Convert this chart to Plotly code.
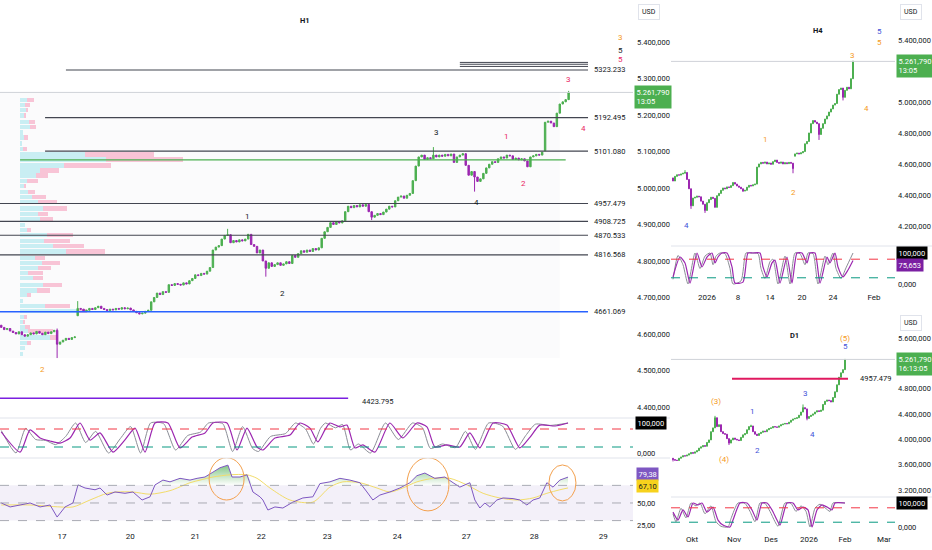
import plotly.graph_objects as go

W, H = 932, 550

# ---------------- H1 (hourly) data ----------------
h1_close = [4618, 4612, 4615, 4608, 4604, 4600, 4606, 4598, 4594,
            4598, 4603, 4600, 4607, 4602, 4598, 4605, 4601, 4606, 4610,
            4572, 4578, 4583, 4588, 4585, 4590, 4592, 4670,
            4668, 4662, 4665, 4670, 4667, 4672, 4676, 4670, 4667, 4664, 4668, 4666,
            4670, 4668, 4672, 4669, 4671, 4666, 4662, 4658, 4655, 4657, 4662, 4665,
            4688, 4700, 4712, 4708, 4716, 4714, 4735, 4733, 4738, 4736, 4734, 4740, 4737,
            4746, 4752, 4762, 4760, 4766, 4764, 4772, 4782, 4830, 4838, 4842, 4860, 4870,
            4872, 4850, 4856, 4852, 4858, 4855, 4860, 4873, 4845, 4840, 4822, 4830, 4800,
            4780, 4795, 4785, 4790, 4795, 4788, 4792, 4798, 4793, 4815, 4810,
            4820, 4828, 4824, 4830, 4826, 4834, 4830, 4836, 4862, 4880, 4892,
            4905, 4900, 4908, 4904, 4910, 4935, 4950, 4946, 4952, 4948, 4954, 4950, 4955,
            4935, 4920, 4925, 4930, 4927, 4934, 4942, 4950, 4948, 4965, 4975,
            4978, 4972, 4980, 4985, 5020, 5060, 5085, 5090, 5078, 5083, 5080, 5090,
            5085, 5090, 5087, 5092, 5088, 5093, 5070, 5085, 5090, 5094, 5062, 5035, 5045,
            5030, 5018, 5025, 5040, 5055, 5065, 5072, 5070, 5080, 5085, 5082, 5090, 5088,
            5078, 5082, 5077, 5080, 5074, 5058, 5085, 5088, 5092, 5090, 5098, 5180,
            5183, 5178, 5168, 5205, 5230, 5236, 5242, 5261.79]
h1_first_open = 4624
h1_open_over = {26: 4650, 185: 5102}
h1_high_over = {19: 4615, 26: 4690, 77: 4888, 147: 5112, 193: 5266}
h1_low_over = {19: 4534, 90: 4757, 126: 4912, 161: 4990}

# volume profile rows (price, up volume, down volume)
vp_price = [5241, 5227, 5214, 5199, 5181, 5167, 5152, 5138, 5122, 5107,
            5092, 5078, 5062, 5048, 5034, 5019, 5006, 4989, 4975, 4962,
            4944, 4929, 4914, 4899, 4885, 4871, 4855, 4841, 4826, 4808,
            4795, 4781, 4767, 4753, 4734, 4719, 4706, 4690, 4677, 4663,
            4647, 4633, 4619, 4608, 4590, 4575, 4562, 4545]
vp_up = [7, 5, 6, 4, 9, 10, 3, 4, 2, 3, 65, 86, 44, 20, 16, 7, 4, 8, 12, 18,
         23, 18, 20, 5, 7, 27, 24, 33, 46, 15, 22, 18, 8, 13, 23, 17, 7, 3, 25, 57,
         4, 3, 5, 8, 30, 7, 5, 3]
vp_down = [7, 5, 2, 2, 6, 6, 0, 4, 0, 4, 69, 77, 47, 19, 12, 11, 2, 7, 14, 19,
           24, 10, 13, 0, 4, 26, 26, 31, 39, 10, 18, 13, 15, 10, 19, 13, 4, 0, 25, 10,
           3, 2, 5, 25, 8, 4, 0, 0]

# horizontal levels (price, start bar, end bar)
h1_black_levels = [(5323.233, 22, 199.6), (5192.495, 14.9, 199.6), (5101.080, 14.9, 199.6),
                   (4957.479, -1, 199.6), (4908.725, -1, 199.6), (4870.533, -1, 199.6),
                   (4816.568, -1, 199.6)]
h1_short_levels = [5344, 5339, 5333]
h1_poc_level = 5077
h1_blue_level = 4661.069
h1_purple_level = 4423.795

# stochastic H1
st1_x = [0, 6.4, 9.8, 13.2, 16.6, 20, 23.4, 26.8, 30.2, 33.6, 38, 42, 45.5, 48.9, 52.3,
         56.7, 60.8, 64.9, 69.3, 72, 76.8, 80.2, 83.6, 87, 89, 93.1, 98.2, 101.6, 105,
         107.7, 110.1, 111.8, 115.2, 117.6, 120.3, 123, 127.1, 132.2, 136.6, 141.4, 144.8,
         147.5, 151.6, 156, 159.4, 162.8, 167.3, 172, 176.4, 179.9, 183.2, 188.4, 192.8]
st1_d = [70, 3, 77, 50, 40, 33, 50, 100, 43, 67, 3, 43, 83, 3, 100, 100, 17, 53, 67, 100,
         100, 10, 83, 20, 10, 50, 60, 100, 83, 37, 77, 100, 87, 93, 17, 27, 3, 100, 50, 100,
         87, 20, 27, 20, 67, 17, 100, 93, 17, 53, 93, 90, 100]
st1_kx = [0, 5, 8.3, 11.7, 15.1, 18.5, 21.9, 25.3, 28.7, 32.1, 36.5, 40.5, 44, 47.4, 50.8,
          55.2, 59.3, 63.4, 67.8, 70.5, 75.3, 78.7, 82.1, 85.5, 87.5, 91.6, 96.7, 100.1,
          103.5, 106.2, 108.6, 110.3, 113.7, 116.1, 118.8, 121.5, 125.6, 130.7, 135.1,
          139.9, 143.3, 146, 150.1, 154.5, 157.9, 161.3, 165.8, 170.5, 174.9, 178.4, 181.7,
          186.9, 192.8]
st1_k = [75, 0, 82, 45, 42, 28, 55, 100, 35, 72, 0, 48, 88, 0, 100, 98, 10, 58, 70, 100,
         98, 5, 88, 15, 5, 55, 65, 100, 80, 30, 82, 100, 84, 95, 10, 30, 0, 100, 45, 100,
         84, 15, 30, 18, 72, 12, 100, 90, 12, 58, 96, 92, 100]

# RSI H1
rsi_x = [0, 3, 6.4, 9.8, 13.2, 16.6, 19, 21.7, 24.4, 26.1, 28.5, 31.9, 33.6, 36, 38.7, 42.1,
         44.8, 47.9, 50.6, 52.3, 55, 57.4, 60.8, 64.2, 66.6, 69.3, 72, 74.4, 77.1, 78.5,
         81.2, 83.6, 85.6, 88, 89, 90.7, 93.1, 95.8, 99.2, 102.6, 106, 108.4, 111.8, 115.2,
         118.6, 122, 124.4, 126.4, 128.8, 132.2, 135.6, 139, 141.4, 144.1, 147.5, 150.9,
         153.7, 156, 159.4, 161.1, 162.8, 164.5, 166.2, 168.6, 170.7, 174.1, 176.4, 178.8,
         180.9, 183.2, 185.6, 187.7, 190, 192.8]
rsi_v = [50, 45.5, 47.7, 50, 45.5, 47.7, 34, 45.5, 50, 70.5, 67, 65, 67, 59, 62.5, 61,
         62.5, 53.4, 57, 70.5, 76, 74, 78, 76, 78, 79.5, 85, 90, 93, 79.5,
         79.5, 82, 62.5, 57, 53.4, 42, 45.5, 44.3, 51, 55.7, 57, 72, 74, 78,
         76, 73, 62.5, 53.4, 59, 62.5, 67, 73, 81, 84, 78, 79.5,
         73, 68, 73, 53.4, 44.3, 50, 45.5, 53.4, 55.7, 55, 53.4, 47.7,
         53.4, 55.7, 73, 68, 76, 79.38]
rsi_ma_x = [0, 9.8, 20, 24.4, 30.2, 36, 39.4, 44.8, 50.6, 57.4, 64.2, 67.6, 72, 77.8, 83.6,
            87, 91.4, 98.2, 106, 111.8, 116.2, 122, 127.8, 132.2, 136.6, 141.4, 146.9,
            152.6, 158.4, 163.9, 169.6, 175.4, 180.9, 185.6, 190, 192.8]
rsi_ma_v = [47.7, 47.7, 45.5, 45.5, 53.4, 61, 62.5, 62.5, 60, 64, 73, 76, 79.5, 82, 82,
            78, 67, 53.4, 51, 68, 74, 73, 67, 62.5, 67, 74, 78,
            78, 70.5, 61, 55.7, 53.4, 55.7, 61, 65, 67.1]

h1_day_ticks = [20.7, 43.9, 66, 88.4, 110.9, 134.7, 158.2, 181.3, 204.8]
h1_day_text = ["17", "20", "21", "22", "23", "24", "27", "28", "29"]

# wave labels H1: (bar, price, text, colour key)
h1_waves = [(83.6, 4921, "1", "k"), (95.8, 4712, "2", "k"), (148.2, 5151, "3", "k"),
            (161.5, 4959, "4", "k"), (171.7, 5142, "1", "p"), (177.5, 5011, "2", "p"),
            (192.8, 5296, "3", "p"), (197.9, 5162, "4", "p"), (210.8, 5411, "3", "o"),
            (210.8, 5378, "5", "k"), (210.8, 5353, "5", "p"), (13.9, 4504, "2", "o")]

# ---------------- H4 data ----------------
h4_close = [4490, 4520, 4530, 4528, 4535, 4540, 4545, 4500, 4440, 4330,
            4380, 4385, 4392, 4388, 4360, 4340, 4300, 4350, 4370, 4385,
            4378, 4320, 4395, 4410, 4430, 4445, 4440, 4452, 4448, 4460,
            4480, 4470, 4458, 4450, 4440, 4425, 4430, 4450, 4462, 4458,
            4465, 4470, 4580, 4600, 4610, 4605, 4612, 4600, 4606, 4598,
            4615, 4625, 4610, 4605, 4612, 4600, 4608, 4602, 4610, 4605,
            4570, 4665, 4670, 4665, 4672, 4680, 4730, 4745, 4800, 4860,
            4880, 4870, 4860, 4790, 4830, 4860, 4890, 4910, 4935, 4955,
            4980, 4990, 5050, 5080, 5090, 5030, 5075, 5095, 5085, 5150, 5261.79]
h4_first_open = 4510
h4_open_over = {61: 4650}
h4_high_over = {6: 4560, 90: 5266}
h4_low_over = {9: 4310, 16: 4284, 35: 4420, 60: 4540, 73: 4755, 85: 5010}

st4_x = [0, 3.5, 6, 8.5, 12, 14.5, 17, 19.5, 21, 22.5, 24.5, 27, 29.5, 31, 35, 37.5, 40,
         43.5, 45, 47, 49.5, 51, 53.5, 57, 59.5, 62, 64.5, 67, 68.5, 71, 73.5, 77, 78.5,
         81, 82.5, 85, 87.5, 90]
st4_d = [23, 87, 68, 3, 100, 55, 87, 100, 68, 87, 100, 100, 55, 3, 6, 100, 100, 100, 55,
         23, 68, 77, 3, 87, 3, 100, 100, 68, 100, 100, 3, 87, 68, 100, 55, 23, 45, 75.653]
st4_kx = [0, 2.5, 5, 7.5, 11, 13.5, 16, 18.5, 20, 21.5, 23.5, 26, 28.5, 30, 34, 36.5, 39,
          42.5, 44, 46, 48.5, 50, 52.5, 56, 58.5, 61, 63.5, 66, 67.5, 70, 72.5, 76, 77.5,
          80, 81.5, 84, 86.5, 90]
st4_k = [15, 92, 62, 0, 100, 50, 90, 100, 62, 90, 100, 98, 50, 0, 10, 100, 100, 98, 50,
         18, 72, 80, 0, 90, 0, 100, 98, 62, 100, 98, 0, 90, 62, 100, 50, 18, 52, 100]

h4_ticks = [17, 32.5, 48.5, 64.5, 80, 100.5]
h4_tick_text = ["2026", "8", "14", "20", "24", "Feb"]
h4_waves = [(6.5, 4200, "4", "b"), (46, 4761, "1", "o"), (60, 4413, "2", "o"),
            (89.5, 5303, "3", "o"), (96.5, 4961, "4", "o"), (103, 5452, "5", "b"),
            (103, 5387, "5", "o")]

# ---------------- D1 data ----------------
d1_close = [3680, 3670, 3665, 3700, 3720, 3740, 3735, 3750, 3770, 3790,
            3780, 3800, 3820, 3860, 3880, 3900, 3890, 3950, 3990, 4120,
            4180, 4340, 4200, 4230, 4120, 4090, 4080, 4010, 3940, 3990,
            4020, 4000, 3990, 3980, 4030, 4070, 4090, 4150, 4200, 4210,
            4120, 4080, 4060, 4090, 4110, 4130, 4120, 4150, 4170, 4180,
            4200, 4195, 4190, 4210, 4230, 4240, 4250, 4245, 4270, 4300,
            4320, 4330, 4340, 4380, 4430, 4500, 4480, 4330, 4360, 4380,
            4400, 4430, 4450, 4440, 4460, 4550, 4600, 4620, 4610, 4590,
            4660, 4750, 4860, 4980, 5050, 5100, 5261.79]
d1_first_open = 3700
d1_open_over = {}
d1_high_over = {21: 4370, 39: 4230, 65: 4550}
d1_low_over = {0: 3650, 28: 3910, 67: 4300}
d1_level = 4957.479

st_d1_x = [0, 2.5, 5, 7.5, 10, 12.5, 14.5, 17, 20, 22.5, 25, 28.5, 30, 33.5, 37, 39.5, 42,
           44.5, 47, 49.5, 52, 53.5, 57, 60, 62.5, 65, 67.5, 69.5, 72, 74.5, 77, 79.5, 81, 86]
st_d1_d = [62, 29, 71, 42, 100, 92, 100, 62, 83, 29, 8, 0, 29, 100, 100, 71, 29, 100, 100,
           71, 29, 8, 100, 100, 71, 83, 71, 0, 71, 92, 83, 71, 100, 100]
st_d1_kx = [0, 1.5, 4, 6.5, 9, 11.5, 13.5, 16, 19, 21.5, 24, 27.5, 29, 32.5, 36, 38.5, 41,
            43.5, 46, 48.5, 51, 52.5, 56, 59, 61.5, 64, 66.5, 68.5, 71, 73.5, 76, 78.5, 80, 86]
st_d1_k = [55, 22, 78, 38, 100, 88, 100, 55, 88, 22, 3, 0, 35, 100, 98, 65, 22, 100, 98,
           65, 22, 3, 100, 98, 65, 88, 65, 0, 78, 95, 80, 65, 100, 100]

d1_ticks = [9.5, 30.5, 49, 68, 86, 105.5]
d1_tick_text = ["Okt", "Nov", "Des", "2026", "Feb", "Mar"]
d1_waves = [(21.5, 4589, "(3)", "o"), (25.5, 3688, "(4)", "o"), (39.5, 4431, "1", "b"),
            (42, 3815, "2", "b"), (66, 4731, "3", "b"), (69.5, 4083, "4", "b"),
            (86, 5600, "(5)", "o"), (86, 5458, "5", "b")]

last_price = 5261.79

# ---------------- styling ----------------
UP = "#4caf50"
DN = "#9c27b0"
TXT = "#131722"
FONT = "Roboto"
WAVE_COL = {"k": "#131722", "p": "#e91e63", "o": "#f59a23", "b": "#3f51d8"}


def xd(a, b):
    return [a / W, b / W]


def yd(top, bottom):
    return [1 - bottom / H, 1 - top / H]


def ohlc(close, first_open, o_over, h_over, l_over):
    o, hi, lo = [], [], []
    prev = first_open
    for i, c in enumerate(close):
        op = o_over.get(i, prev)
        o.append(op)
        hi.append(h_over.get(i, max(op, c)))
        lo.append(l_over.get(i, min(op, c)))
        prev = c
    return o, hi, lo


fig = go.Figure()

# volume profile (base axes x / y)
fig.add_trace(go.Bar(y=vp_price, x=vp_up, orientation="h", xaxis="x", yaxis="y",
                     marker=dict(color="#c9eef3", line=dict(width=0)), width=12,
                     hoverinfo="skip", showlegend=False))
fig.add_trace(go.Bar(y=vp_price, x=vp_down, orientation="h", xaxis="x", yaxis="y",
                     marker=dict(color="#f8c4d6", line=dict(width=0)), width=12,
                     hoverinfo="skip", showlegend=False))


def candles(close, fo, oo, ho, lo, xa, ya):
    o, hi, lw = ohlc(close, fo, oo, ho, lo)
    fig.add_trace(go.Candlestick(
        x=list(range(len(close))), open=o, high=hi, low=lw, close=close,
        xaxis=xa, yaxis=ya, whiskerwidth=0,
        increasing=dict(line=dict(color=UP, width=1), fillcolor=UP),
        decreasing=dict(line=dict(color=DN, width=1), fillcolor=DN),
        hoverinfo="skip", showlegend=False))


candles(h1_close, h1_first_open, h1_open_over, h1_high_over, h1_low_over, "x4", "y")
candles(h4_close, h4_first_open, h4_open_over, h4_high_over, h4_low_over, "x5", "y5")
candles(d1_close, d1_first_open, d1_open_over, d1_high_over, d1_low_over, "x7", "y7")


def stoch(xk, k, xdv, d, xa, ya):
    fig.add_trace(go.Scatter(x=xk, y=k, xaxis=xa, yaxis=ya, mode="lines",
                             line=dict(color="#8a8d96", width=1, shape="spline", smoothing=0.6),
                             hoverinfo="skip", showlegend=False))
    fig.add_trace(go.Scatter(x=xdv, y=d, xaxis=xa, yaxis=ya, mode="lines",
                             line=dict(color="#9c27b0", width=1.2, shape="spline", smoothing=0.6),
                             hoverinfo="skip", showlegend=False))


stoch(st1_kx, st1_k, st1_x, st1_d, "x2", "y2")
stoch(st4_kx, st4_k, st4_x, st4_d, "x6", "y6")
stoch(st_d1_kx, st_d1_k, st_d1_x, st_d1_d, "x8", "y8")

# RSI
fig.add_trace(go.Scatter(x=rsi_x, y=[70] * len(rsi_x), xaxis="x3", yaxis="y3", mode="lines",
                         line=dict(width=0), hoverinfo="skip", showlegend=False))
fig.add_trace(go.Scatter(x=rsi_x, y=[max(v, 70) for v in rsi_v], xaxis="x3", yaxis="y3",
                         mode="lines", line=dict(width=0), fill="tonexty",
                         fillgradient=dict(type="vertical", start=70, stop=95,
                                           colorscale=[[0, "rgba(76,175,80,0)"],
                                                       [1, "rgba(76,175,80,0.75)"]]),
                         hoverinfo="skip", showlegend=False))
fig.add_trace(go.Scatter(x=rsi_ma_x, y=rsi_ma_v, xaxis="x3", yaxis="y3", mode="lines",
                         line=dict(color="#f2dc6a", width=1, shape="spline", smoothing=0.8),
                         hoverinfo="skip", showlegend=False))
fig.add_trace(go.Scatter(x=rsi_x, y=rsi_v, xaxis="x3", yaxis="y3", mode="lines",
                         line=dict(color="#7e57c2", width=1),
                         hoverinfo="skip", showlegend=False))

# ---------------- axes ----------------
H1_X = xd(0, 633)
H1_RANGE = [-0.43, 214.9]
RX = xd(671, 895)
R_RANGE = [-1, 111]
tickfont = dict(family=FONT, size=7.5, color=TXT)
ax_common = dict(showgrid=False, zeroline=False, showline=False, ticks="")

lay = dict(
    xaxis=dict(domain=H1_X, range=[-20, 613], visible=False, anchor="y", fixedrange=True,
               rangeslider=dict(visible=False)),
    xaxis4=dict(overlaying="x", range=H1_RANGE, visible=False, anchor="y",
                rangeslider=dict(visible=False)),
    yaxis=dict(domain=yd(0, 415), range=[4378, 5515], side="right", anchor="x",
               tickvals=list(range(4400, 5401, 100)), tickformat=",.3f",
               tickfont=tickfont, ticklabelstandoff=3, **ax_common),
    xaxis2=dict(domain=H1_X, range=H1_RANGE, anchor="y2", showticklabels=False, **ax_common),
    yaxis2=dict(domain=yd(418, 458), range=[-16.7, 116.7], side="right", anchor="x2",
                tickvals=[0], tickformat=",.3f", tickfont=tickfont, ticklabelstandoff=3,
                **ax_common),
    xaxis3=dict(domain=H1_X, range=H1_RANGE, anchor="y3", tickvals=h1_day_ticks,
                ticktext=h1_day_text, tickfont=dict(family=FONT, size=8, color=TXT),
                ticklabelstandoff=0, **ax_common),
    yaxis3=dict(domain=yd(458, 530), range=[19.3, 101.1], side="right", anchor="x3",
                tickvals=[50, 25], tickformat=",.2f", tickfont=tickfont,
                ticklabelstandoff=3, **ax_common),
    xaxis5=dict(domain=RX, range=R_RANGE, anchor="y5", showticklabels=False,
                rangeslider=dict(visible=False), **ax_common),
    yaxis5=dict(domain=yd(0, 245), range=[4077, 5658], side="right", anchor="x5",
                tickvals=[5400, 5000, 4800, 4600, 4400, 4200], tickformat=",.3f",
                tickfont=tickfont, ticklabelstandoff=2, **ax_common),
    xaxis6=dict(domain=RX, range=R_RANGE, anchor="y6", tickvals=h4_ticks,
                ticktext=h4_tick_text, tickfont=dict(family=FONT, size=8, color=TXT),
                ticklabelstandoff=1, **ax_common),
    yaxis6=dict(domain=yd(245, 290), range=[-19.4, 125.8], side="right", anchor="x6",
                tickvals=[0], tickformat=",.3f", tickfont=tickfont, ticklabelstandoff=2,
                **ax_common),
    xaxis7=dict(domain=RX, range=R_RANGE, anchor="y7", showticklabels=False,
                rangeslider=dict(visible=False), **ax_common),
    yaxis7=dict(domain=yd(318, 497), range=[3088, 5916], side="right", anchor="x7",
                tickvals=[5600, 4800, 4400, 4000, 3600, 3200], tickformat=",.3f",
                tickfont=tickfont, ticklabelstandoff=2, **ax_common),
    xaxis8=dict(domain=RX, range=R_RANGE, anchor="y8", tickvals=d1_ticks,
                ticktext=d1_tick_text, tickfont=dict(family=FONT, size=8, color=TXT),
                ticklabelstandoff=1, **ax_common),
    yaxis8=dict(domain=yd(497, 532), range=[-20.8, 125], side="right", anchor="x8",
                tickvals=[0], tickformat=",.3f", tickfont=tickfont, ticklabelstandoff=2,
                **ax_common),
)

shapes = []
LINE_C = "#434651"


def hline(xref, yref, x0, x1, y, color, width=1, dash="solid", layer="above"):
    shapes.append(dict(type="line", xref=xref, yref=yref, x0=x0, x1=x1, y0=y, y1=y,
                       line=dict(color=color, width=width, dash=dash), layer=layer))


# VP background box
shapes.append(dict(type="rect", xref="x4", yref="y", x0=-1, x1=190, y0=4534, y1=last_price,
                   fillcolor="#fbfbfc", line=dict(width=0), layer="below"))
# current price lines
hline("x4 domain", "y", 0, 1, last_price, "#cfd2d8", 1)
hline("x5 domain", "y5", 0, 1, last_price, "#cfd2d8", 1)
hline("x7 domain", "y7", 0, 1, last_price, "#cfd2d8", 1)

for lvl, a, b in h1_black_levels:
    hline("x4", "y", a, b, lvl, LINE_C, 1.2)
for lvl in h1_short_levels:
    hline("x4", "y", 156, 199.6, lvl, LINE_C, 1)
hline("x4", "y", 6.4, 192, h1_poc_level, "#4caf50", 1.2)
hline("x4", "y", -1, 199.6, h1_blue_level, "#2962ff", 1.5)
hline("x4", "y", -1, 118, h1_purple_level, "#7b1fe0", 1.5)
hline("x7", "y7", 29.5, 87.5, d1_level, "#e0195f", 2)

# stoch bands
for xr, yr in (("x2 domain", "y2"), ("x6 domain", "y6"), ("x8 domain", "y8")):
    hline(xr, yr, 0, 1, 80, "#f23645", 1, "dash")
    hline(xr, yr, 0, 1, 20, "#089981", 1, "dash")

# RSI band and levels
shapes.append(dict(type="rect", xref="x3 domain", yref="y3", x0=0, x1=1, y0=30, y1=70,
                   fillcolor="rgba(126,87,194,0.09)", line=dict(width=0), layer="below"))
for lv in (70, 50, 30):
    hline("x3 domain", "y3", 0, 1, lv, "#9598a1", 0.8, "dash")

# orange ellipses on RSI
for (a, b, c, d) in ((70.7, 82.6, 53.4, 101.5), (138, 152.3, 41, 101.5), (186.3, 195.5, 52.3, 93.2)):
    shapes.append(dict(type="circle", xref="x3", yref="y3", x0=a, x1=b, y0=c, y1=d,
                       line=dict(color="#f3a04d", width=1)))

# pane separators
for y in (418, 458):
    shapes.append(dict(type="line", xref="paper", yref="paper", x0=0, x1=670 / W,
                       y0=1 - y / H, y1=1 - y / H, line=dict(color="#e0e3eb", width=1)))
for y in (246, 497):
    shapes.append(dict(type="line", xref="paper", yref="paper", x0=671 / W, x1=1,
                       y0=1 - y / H, y1=1 - y / H, line=dict(color="#e0e3eb", width=1)))

ann = []


def label(xr, yr, x, y, text, color=TXT, size=8, **kw):
    ann.append(dict(xref=xr, yref=yr, x=x, y=y, text=text, showarrow=False,
                    font=dict(family=FONT, size=size, color=color), **kw))


# H1 texts
label("x4", "y", 103.3, 5460, "<b>H1</b>", TXT, 7.5)
for x, y, t, c in h1_waves:
    label("x4", "y", x, y, t, WAVE_COL[c], 8)
for lvl, a, b in h1_black_levels:
    label("x4", "y", 207, lvl, f"{lvl:.3f}", TXT, 7.5)
label("x4", "y", 207, h1_blue_level, f"{h1_blue_level:.3f}", TXT, 7.5)
label("x4", "y", 128, h1_purple_level, f"{h1_purple_level:.3f}", TXT, 7.5, yshift=-3)

# H4 texts
label("x5", "y5", 72.5, 5458, "<b>H4</b>", TXT, 7.5)
for x, y, t, c in h4_waves:
    label("x5", "y5", x, y, t, WAVE_COL[c], 8)

# D1 texts
label("x7", "y7", 60.5, 5632, "<b>D1</b>", TXT, 7.5)
for x, y, t, c in d1_waves:
    label("x7", "y7", x, y, t, WAVE_COL[c], 8)
label("x7", "y7", 101, d1_level, f"{d1_level:.3f}", TXT, 7.5)


def tag(x_px, yref, y, text, bg, fg, yanchor="middle", yshift=0):
    ann.append(dict(xref="paper", yref=yref, x=x_px / W, y=y, text=text, showarrow=False,
                    xanchor="left", yanchor=yanchor, yshift=yshift, align="left",
                    bgcolor=bg, borderpad=1.5,
                    font=dict(family=FONT, size=7.5, color=fg)))


price_txt = "5.261,790"
tag(634, "y", last_price, price_txt + "<br>13:05", "#4caf50", "white", "top", 7)
tag(896, "y5", last_price, price_txt + "<br>13:05", "#4caf50", "white", "top", 7)
tag(896, "y7", last_price, price_txt + "<br>16:13:05", "#4caf50", "white", "top", 7)
tag(635, "y2", 100, "100,000", "#000000", "white")
tag(896, "y6", 100, "100,000", "#000000", "white")
tag(896, "y6", 75.653, "75,653", "#7b1fa2", "white", yshift=-4)
tag(896, "y8", 100, "100,000", "#000000", "white")
tag(636, "y3", 79.38, "79,38", "#7e57c2", "white", yshift=3)
tag(636, "y3", 67.10, "67,10", "#f7d21d", TXT, yshift=2)

for x_px, y_px in ((638, 12), (900, 12), (900, 323)):
    ann.append(dict(xref="paper", yref="paper", x=x_px / W, y=1 - y_px / H, text="USD",
                    showarrow=False, xanchor="left", yanchor="middle",
                    bordercolor="#e0e3eb", borderwidth=1, borderpad=3, bgcolor="white",
                    font=dict(family=FONT, size=7, color=TXT)))

fig.update_layout(
    width=W, height=H, margin=dict(l=0, r=0, t=0, b=0),
    paper_bgcolor="white", plot_bgcolor="white",
    separators=",.", barmode="stack", showlegend=False,
    font=dict(family=FONT, size=8, color=TXT),
    shapes=shapes, annotations=ann, **lay)

fig.write_html("out.html", config={"displayModeBar": False, "staticPlot": True},
               post_script="document.body.style.margin='0';document.body.style.overflow='hidden';")
